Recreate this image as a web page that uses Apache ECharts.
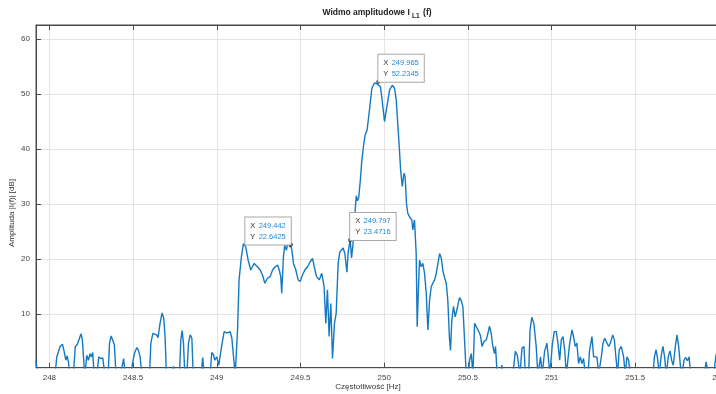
<!DOCTYPE html>
<html><head><meta charset="utf-8">
<script src="https://cdn.jsdelivr.net/npm/echarts@6/dist/echarts.min.js"></script>
<style>html,body{margin:0;padding:0;background:#fff;overflow:hidden}#c{width:716px;height:394px}</style>
</head><body><div id="c"></div>
<script>
const freqs = [
247.920,247.930,248.034,248.044,248.064,248.078,248.088,248.098,248.106,248.114,248.122,248.143,248.155,248.167,248.177,248.189,248.197,248.207,248.213,248.223,
248.233,248.243,248.251,248.259,248.267,248.283,248.295,248.307,248.319,248.331,248.351,248.359,248.369,248.378,248.388,248.398,248.422,248.434,248.444,248.452,
248.486,248.498,248.508,248.522,248.532,248.542,248.552,248.598,248.606,248.618,248.629,248.641,248.649,248.661,248.673,248.683,248.691,248.699,248.731,248.741,
248.751,248.777,248.785,248.793,248.801,248.809,248.821,248.831,248.841,248.851,248.859,248.906,248.916,248.924,248.960,248.970,248.980,248.988,249.000,249.012,
249.022,249.032,249.044,249.056,249.068,249.080,249.090,249.100,249.110,249.118,249.124,249.133,249.147,249.159,249.173,249.187,249.203,249.213,249.223,249.243,
249.259,249.273,249.287,249.303,249.319,249.333,249.349,249.363,249.373,249.382,249.388,249.398,249.406,249.416,249.426,249.436,249.442,249.450,249.458,249.472,
249.486,249.498,249.512,249.526,249.542,249.558,249.572,249.582,249.596,249.612,249.627,249.641,249.651,249.661,249.671,249.681,249.691,249.703,249.713,249.725,
249.735,249.745,249.755,249.765,249.777,249.785,249.797,249.805,249.813,249.822,249.833,249.840,249.848,249.858,249.866,249.878,249.886,249.898,249.912,249.926,
249.942,249.955,249.965,249.978,249.992,250.002,250.016,250.032,250.048,250.062,250.072,250.082,250.090,250.098,250.108,250.118,250.125,250.133,250.141,250.151,
250.165,250.171,250.181,250.191,250.197,250.205,250.211,250.221,250.231,250.241,250.251,250.261,250.271,250.281,250.291,250.301,250.311,250.321,250.331,250.341,
250.351,250.361,250.371,250.380,250.390,250.396,250.404,250.414,250.424,250.436,250.450,250.460,250.470,250.480,250.490,250.503,250.510,250.520,250.530,250.540,
250.548,250.560,250.570,250.576,250.584,250.596,250.610,250.620,250.629,250.639,250.649,250.659,250.665,250.675,250.697,250.703,250.711,250.769,250.783,250.795,
250.811,250.823,250.835,250.843,250.863,250.871,250.882,250.894,250.908,250.918,250.934,250.944,250.958,250.972,250.982,250.990,251.004,251.016,251.028,251.038,
251.048,251.058,251.068,251.078,251.088,251.098,251.108,251.122,251.131,251.141,251.151,251.161,251.171,251.181,251.191,251.201,251.217,251.227,251.241,251.251,
251.261,251.271,251.281,251.297,251.307,251.317,251.327,251.341,251.351,251.365,251.375,251.384,251.394,251.404,251.416,251.430,251.440,251.450,251.460,251.470,
251.606,251.614,251.624,251.633,251.643,251.655,251.665,251.675,251.685,251.697,251.707,251.717,251.727,251.739,251.749,251.759,251.769,251.779,251.791,251.801,
251.811,251.821,251.831,251.914,251.922,251.930,251.940,251.968,251.982,251.994,252.005,252.020,252.030,252.080
];
const amps = [
1.5,-1,-1,2.2,4.1,4.5,3.2,1.6,2.4,1.3,-1,-1,4.1,4.5,4.7,6.4,5.3,0.7,-1,2.5,
1.6,2.8,2.2,3.0,-1,-1,2.2,1.9,2.0,-1,-1,4.7,6.0,6.2,4.4,-1,-1,0.5,1.9,-1,
-1,1.3,2.8,3.9,3.4,2.2,-1,-1,4.7,6.5,6.7,6.2,5.7,8.3,10.2,9.2,5.9,-1,-1,0.5,
-1,-1,5.3,7.0,4.7,-1,-1,4.7,6.2,5.6,-1,-1,2.1,-1,-1,3.0,2.6,1.6,2.2,0.7,
2.8,4.7,6.8,6.6,6.6,6.8,5.6,2.2,-1,-1,7.1,16.2,20.4,22.8,22.2,19.8,18.0,18.6,19.2,18.6,
18.0,17.1,15.6,16.5,16.8,18.0,18.6,18.9,18.0,16.8,13.8,20.4,22.5,21.6,23.2,22.2,22.6425,21.3,19.2,18.0,
16.2,15.9,17.1,18.0,18.6,19.5,20.1,18.6,16.8,16.2,17.4,15.0,8.3,14.4,5.9,11.9,1.9,8.3,10.1,19.2,
21.3,21.6,22.0,21.0,17.6,21.3,23.4716,20.2,22.5,27.0,31.5,30.6,31.2,34.5,37.8,41.0,42.5,43.5,47.1,51.0,
52.0,51.9,52.2345,51.3,47.7,45.0,47.7,50.7,51.6,51.0,48.9,44.1,40.4,36.2,33.2,35.6,35.0,30.1,28.3,27.7,
27.1,25.3,27.1,21.0,7.7,15.0,19.8,18.6,19.2,17.4,13.8,7.1,12.5,15.0,15.3,16.2,17.4,19.2,21.0,20.2,
17.8,16.6,15.5,12.5,5.5,3.4,8.9,11.4,9.5,11.0,13.0,12.5,11.3,5.3,-1,-1,1.6,2.8,-1,8.3,
8.2,7.1,6.5,5.9,4.1,5.0,5.3,6.5,7.8,6.5,4.1,2.8,4.1,-1,-1,0.7,-1,-1,3.2,2.5,
-1,3.8,4.1,-1,-1,7.1,9.4,8.3,4.1,-1,2.2,-1,3.2,4.7,1.6,-1,4.4,6.8,6.8,4.7,
1.6,5.3,5.9,3.5,-1,-1,4.7,7.1,5.9,4.1,4.7,1.0,2.2,1.0,1.9,-1,-1,3.5,5.9,2.2,
1.9,2.2,-1,2.2,4.7,5.6,5.3,4.1,4.7,6.2,5.3,2.2,-1,3.5,4.1,2.2,-1,2.2,1.6,-1,
-1,2.2,3.5,1.9,-1,2.5,4.1,2.2,-1,2.2,3.3,1.6,0.7,4.1,6.2,4.1,0.7,-1,1.6,2.1,
1.5,2.2,-1,-1,1.3,1.6,-1,-1,2.5,3.8,4.5,2.5,-1,-1
];
const xTicks = [248, 248.5, 249, 249.5, 250, 250.5, 251, 251.5, 252];
const yTicks = [10, 20, 30, 40, 50, 60];
const tipX = [249.442, 249.797, 249.965];
const tipY = [22.6425, 23.4716, 52.2345];
const tipSide = ['left', 'right', 'right'];

const FONT = '"Liberation Sans", Arial, sans-serif';
const axisCol = '#4a4a4a';
const gridCol = '#e4e4e4';
const lineData = freqs.map((f, i) => [f, amps[i]]);

const tipPoints = tipX.map((x, i) => ({
  coord: [x, tipY[i]],
  label: {
    show: true,
    position: [2, 2],
    align: tipSide[i] === 'left' ? 'right' : 'left',
    verticalAlign: 'bottom',
    backgroundColor: '#ffffff',
    borderColor: '#a8a8a8',
    borderWidth: 1,
    padding: [3, 5, 2, 5],
    lineHeight: 11,
    formatter: '{k|X} {v|' + x + '}\n{k|Y} {v|' + tipY[i] + '}',
    rich: {
      k: { color: '#333333', fontSize: 7.5, fontFamily: FONT, lineHeight: 11 },
      v: { color: '#1f8ad8', fontSize: 7.5, fontFamily: FONT, lineHeight: 11 }
    }
  }
}));

const chart = echarts.init(document.getElementById('c'), null, { renderer: 'canvas' });
chart.setOption({
  animation: false,
  backgroundColor: '#ffffff',
  grid: { left: 36, width: 696.4, top: 25, bottom: 26.3, outerBoundsMode: 'none', containLabel: false,
    show: true, borderColor: axisCol, borderWidth: 1, backgroundColor: 'transparent' },
  xAxis: [{
    type: 'value', min: 247.92, max: 252.08,
    axisLine: { show: true, onZero: false, lineStyle: { color: axisCol, width: 1 } },
    axisTick: { show: true, inside: true, length: 5, customValues: xTicks, lineStyle: { color: axisCol } },
    axisLabel: { show: true, customValues: xTicks, margin: 6, fontSize: 8, color: '#444', fontFamily: FONT,
      formatter: v => String(Math.round(v * 10) / 10) },
    splitLine: { show: true, lineStyle: { color: gridCol, width: 1 } }
  }, {
    type: 'value', min: 247.92, max: 252.08, position: 'top',
    axisLine: { show: true, onZero: false, lineStyle: { color: axisCol, width: 1 } },
    axisTick: { show: true, inside: true, length: 5, customValues: xTicks, lineStyle: { color: axisCol } },
    axisLabel: { show: false },
    splitLine: { show: false }
  }],
  yAxis: {
    type: 'value', min: 0.24, max: 62.55,
    axisLine: { show: true, onZero: false, lineStyle: { color: axisCol, width: 1 } },
    axisTick: { show: true, inside: true, length: 5, customValues: yTicks, lineStyle: { color: axisCol } },
    axisLabel: { show: true, customValues: yTicks, margin: 6, fontSize: 8, color: '#444', fontFamily: FONT },
    splitLine: { show: true, lineStyle: { color: gridCol, width: 1 } }
  },
  graphic: [
    { type: 'text', x: 377, y: 13, style: {
        text: '{a|Widmo amplitudowe I }{b|L1}{a| (f)}', align: 'center', verticalAlign: 'middle',
        rich: { a: { fontSize: 8.5, fontWeight: 'bold', fontFamily: FONT, fill: '#222', height: 14, verticalAlign: 'middle' },
                b: { fontSize: 6.5, fontWeight: 'bold', fontFamily: FONT, fill: '#222', height: 14, verticalAlign: 'bottom', padding: [6, 1, 0, 0] } } } },
    { type: 'text', x: 368, y: 387, style: { text: 'Częstotliwość [Hz]', align: 'center', verticalAlign: 'middle', fontSize: 8, fontFamily: FONT, fill: '#333' } },
    { type: 'text', x: 12, y: 213, rotation: Math.PI / 2, style: { text: 'Amplituda |I(f)| [dB]', align: 'center', verticalAlign: 'middle', fontSize: 8, fontFamily: FONT, fill: '#333' } }
  ],
  series: [{
    type: 'line', xAxisIndex: 0, data: lineData, showSymbol: false, clip: true,
    lineStyle: { color: '#1579c2', width: 1.4 },
    itemStyle: { color: '#1579c2' },
    markPoint: {
      symbol: 'circle', symbolSize: 4,
      itemStyle: { color: '#222', borderColor: '#222', borderWidth: 0 },
      data: tipPoints
    }
  }]
});
</script>
</body></html>
